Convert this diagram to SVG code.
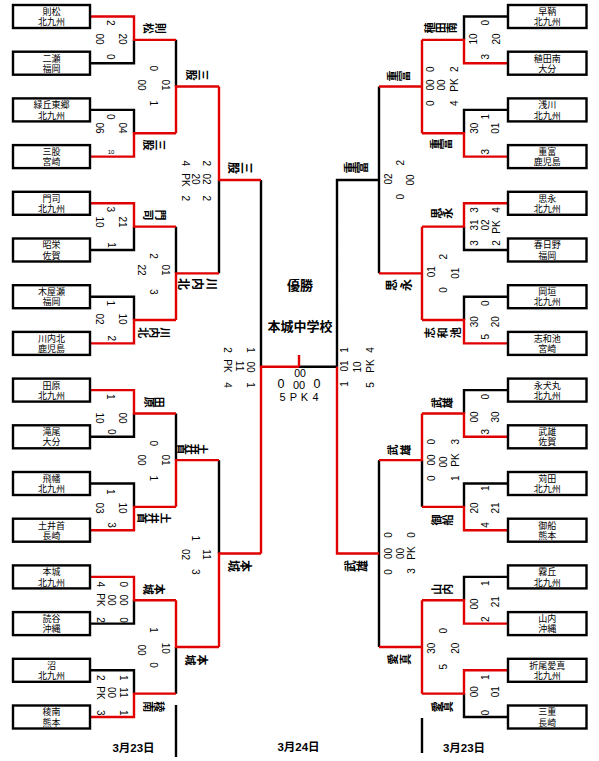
<svg xmlns="http://www.w3.org/2000/svg" width="599" height="761" viewBox="0 0 599 761">
<style>
.bx{fill:#fff;stroke:#000;stroke-width:2.4}
.k{fill:none;stroke:#000;stroke-width:2.4}
.r{fill:none;stroke:#e00000;stroke-width:2.4}
text{font-family:"Liberation Sans","Noto Sans CJK JP",sans-serif;fill:#000}
.tn{font-size:9px;text-anchor:middle}
.sc{font-size:10px;text-anchor:middle;dominant-baseline:central}
.lb{font-size:11px;font-weight:bold;text-anchor:middle;dominant-baseline:central}
.lb2{font-size:12px;font-weight:bold;text-anchor:middle;dominant-baseline:central}
.ct{font-size:13px;font-weight:bold;text-anchor:middle}
.dt{font-size:11.5px;font-weight:bold;text-anchor:middle}
</style>
<defs>
<rect id="bl" class="bx" x="13" y="-11.5" width="77" height="23"/>
<rect id="br" class="bx" x="508" y="-11.5" width="78.5" height="23"/>
</defs>
<rect width="599" height="761" fill="#fff"/>
<g id="connectors">
<path class="k" d="M91 63.2H134V39.85M91 109.9H134V133.25M91 250H134V226.65M91 296.7H134V320.05M91 436.8H134V413.45M91 483.5H134V506.85M91 623.6H134V600.25M91 670.3H134V693.65M176 39.85V86.55M176 226.65V273.35M176 413.45V460.15M176 646.95V693.65M219 179.95V273.35M219 460.15V553.55M261 179.95V366.75M299 366.75H337"/>
<path class="k" d="M507 16.5H464V39.85M507 109.9H464V133.25M507 250H464V226.65M507 296.7H464V320.05M507 390.1H464V413.45M507 483.5H464V506.85M507 576.9H464V600.25M507 717H464V693.65M422 460.15V506.85M379 86.55V273.35M379 460.15V646.95M379 179.95H337V366.75"/>
<path class="k" d="M176 705V757M422 718V753"/>
<path class="r" d="M91 16.5H134V39.85H176M91 156.6H134V133.25H176M91 203.3H134V226.65H176M91 343.4H134V320.05H176M91 390.1H134V413.45H176M91 530.2H134V506.85H176M91 576.9H134V600.25H176M91 717H134V693.65H176"/>
<path class="r" d="M176 133.25V86.55H219M176 320.05V273.35H219M176 506.85V460.15H219M176 600.25V646.95H219M219 86.55V179.95H261M219 646.95V553.55H261M261 553.55V366.75H299M299 355V366.75"/>
<path class="r" d="M507 63.2H464V39.85H422M507 156.6H464V133.25H422M507 203.3H464V226.65H422M507 343.4H464V320.05H422M507 436.8H464V413.45H422M507 530.2H464V506.85H422M507 623.6H464V600.25H422M507 670.3H464V693.65H422"/>
<path class="r" d="M422 39.85V133.25M422 86.55H379M422 226.65V320.05M422 273.35H379M422 413.45V460.15H379M422 600.25V693.65M422 646.95H379M379 553.55H337V366.75"/>
</g>
<g id="L0" transform="translate(0 16.5)"><use href="#bl"/><text class="tn" x="51.5" y="-1.6">則松</text><text class="tn" x="51.5" y="8.7">北九州</text></g>
<g id="L1" transform="translate(0 63.2)"><use href="#bl"/><text class="tn" x="51.5" y="-1.6">二瀬</text><text class="tn" x="51.5" y="8.7">福岡</text></g>
<g id="L2" transform="translate(0 109.9)"><use href="#bl"/><text class="tn" x="51.5" y="-1.6">緑丘東郷</text><text class="tn" x="51.5" y="8.7">北九州</text></g>
<g id="L3" transform="translate(0 156.6)"><use href="#bl"/><text class="tn" x="51.5" y="-1.6">三股</text><text class="tn" x="51.5" y="8.7">宮崎</text></g>
<g id="L4" transform="translate(0 203.3)"><use href="#bl"/><text class="tn" x="51.5" y="-1.6">門司</text><text class="tn" x="51.5" y="8.7">北九州</text></g>
<g id="L5" transform="translate(0 250)"><use href="#bl"/><text class="tn" x="51.5" y="-1.6">昭栄</text><text class="tn" x="51.5" y="8.7">佐賀</text></g>
<g id="L6" transform="translate(0 296.7)"><use href="#bl"/><text class="tn" x="51.5" y="-1.6">木屋瀬</text><text class="tn" x="51.5" y="8.7">福岡</text></g>
<g id="L7" transform="translate(0 343.4)"><use href="#bl"/><text class="tn" x="51.5" y="-1.6">川内北</text><text class="tn" x="51.5" y="8.7">鹿児島</text></g>
<g id="L8" transform="translate(0 390.1)"><use href="#bl"/><text class="tn" x="51.5" y="-1.6">田原</text><text class="tn" x="51.5" y="8.7">北九州</text></g>
<g id="L9" transform="translate(0 436.8)"><use href="#bl"/><text class="tn" x="51.5" y="-1.6">滝尾</text><text class="tn" x="51.5" y="8.7">大分</text></g>
<g id="L10" transform="translate(0 483.5)"><use href="#bl"/><text class="tn" x="51.5" y="-1.6">飛幡</text><text class="tn" x="51.5" y="8.7">北九州</text></g>
<g id="L11" transform="translate(0 530.2)"><use href="#bl"/><text class="tn" x="51.5" y="-1.6">土井首</text><text class="tn" x="51.5" y="8.7">長崎</text></g>
<g id="L12" transform="translate(0 576.9)"><use href="#bl"/><text class="tn" x="51.5" y="-1.6">本城</text><text class="tn" x="51.5" y="8.7">北九州</text></g>
<g id="L13" transform="translate(0 623.6)"><use href="#bl"/><text class="tn" x="51.5" y="-1.6">読谷</text><text class="tn" x="51.5" y="8.7">沖縄</text></g>
<g id="L14" transform="translate(0 670.3)"><use href="#bl"/><text class="tn" x="51.5" y="-1.6">沼</text><text class="tn" x="51.5" y="8.7">北九州</text></g>
<g id="L15" transform="translate(0 717)"><use href="#bl"/><text class="tn" x="51.5" y="-1.6">稜南</text><text class="tn" x="51.5" y="8.7">熊本</text></g>
<g id="R0" transform="translate(0 16.5)"><use href="#br"/><text class="tn" x="547.2" y="-1.6">早鞆</text><text class="tn" x="547.2" y="8.7">北九州</text></g>
<g id="R1" transform="translate(0 63.2)"><use href="#br"/><text class="tn" x="547.2" y="-1.6">稙田南</text><text class="tn" x="547.2" y="8.7">大分</text></g>
<g id="R2" transform="translate(0 109.9)"><use href="#br"/><text class="tn" x="547.2" y="-1.6">浅川</text><text class="tn" x="547.2" y="8.7">北九州</text></g>
<g id="R3" transform="translate(0 156.6)"><use href="#br"/><text class="tn" x="547.2" y="-1.6">重富</text><text class="tn" x="547.2" y="8.7">鹿児島</text></g>
<g id="R4" transform="translate(0 203.3)"><use href="#br"/><text class="tn" x="547.2" y="-1.6">思永</text><text class="tn" x="547.2" y="8.7">北九州</text></g>
<g id="R5" transform="translate(0 250)"><use href="#br"/><text class="tn" x="547.2" y="-1.6">春日野</text><text class="tn" x="547.2" y="8.7">福岡</text></g>
<g id="R6" transform="translate(0 296.7)"><use href="#br"/><text class="tn" x="547.2" y="-1.6">岡垣</text><text class="tn" x="547.2" y="8.7">北九州</text></g>
<g id="R7" transform="translate(0 343.4)"><use href="#br"/><text class="tn" x="547.2" y="-1.6">志和池</text><text class="tn" x="547.2" y="8.7">宮崎</text></g>
<g id="R8" transform="translate(0 390.1)"><use href="#br"/><text class="tn" x="547.2" y="-1.6">永犬丸</text><text class="tn" x="547.2" y="8.7">北九州</text></g>
<g id="R9" transform="translate(0 436.8)"><use href="#br"/><text class="tn" x="547.2" y="-1.6">武雄</text><text class="tn" x="547.2" y="8.7">佐賀</text></g>
<g id="R10" transform="translate(0 483.5)"><use href="#br"/><text class="tn" x="547.2" y="-1.6">苅田</text><text class="tn" x="547.2" y="8.7">北九州</text></g>
<g id="R11" transform="translate(0 530.2)"><use href="#br"/><text class="tn" x="547.2" y="-1.6">御船</text><text class="tn" x="547.2" y="8.7">熊本</text></g>
<g id="R12" transform="translate(0 576.9)"><use href="#br"/><text class="tn" x="547.2" y="-1.6">霧丘</text><text class="tn" x="547.2" y="8.7">北九州</text></g>
<g id="R13" transform="translate(0 623.6)"><use href="#br"/><text class="tn" x="547.2" y="-1.6">山内</text><text class="tn" x="547.2" y="8.7">沖縄</text></g>
<g id="R14" transform="translate(0 670.3)"><use href="#br"/><text class="tn" x="547.2" y="-1.6">折尾愛真</text><text class="tn" x="547.2" y="8.7">北九州</text></g>
<g id="R15" transform="translate(0 717)"><use href="#br"/><text class="tn" x="547.2" y="-1.6">三重</text><text class="tn" x="547.2" y="8.7">長崎</text></g>
<g id="labels-left">
<text class="lb" transform="translate(159.5 28.3) rotate(90)">則</text><text class="lb" transform="translate(148.3 28.3) rotate(90)">松</text>
<text class="lb" transform="translate(159.5 145) rotate(90)">三</text><text class="lb" transform="translate(148.3 145) rotate(90)">股</text>
<text class="lb" transform="translate(202.7 75) rotate(90)">三</text><text class="lb" transform="translate(191 75) rotate(90)">股</text>
<text class="lb2" transform="translate(245.5 168) rotate(90)">三</text><text class="lb2" transform="translate(232.5 168) rotate(90)">股</text>
<text class="lb" transform="translate(159.5 215) rotate(90)">門</text><text class="lb" transform="translate(148.3 215) rotate(90)">司</text>
<text class="lb" transform="translate(165 332.7) rotate(90)">川</text><text class="lb" transform="translate(154 332.7) rotate(90)">内</text><text class="lb" transform="translate(143.3 332.7) rotate(90)">北</text>
<text class="lb2" transform="translate(210.7 284) rotate(90)">川</text><text class="lb2" transform="translate(196.7 284) rotate(90)">内</text><text class="lb2" transform="translate(182.7 284) rotate(90)">北</text>
<text class="lb" transform="translate(159.3 402.3) rotate(90)">田</text><text class="lb" transform="translate(149 402.3) rotate(90)">原</text>
<text class="lb" transform="translate(201.7 449.3) rotate(90)">土</text><text class="lb" transform="translate(191.7 449.3) rotate(90)">井</text><text class="lb" transform="translate(181.7 449.3) rotate(90)">首</text>
<text class="lb" transform="translate(165 518.3) rotate(90)">土</text><text class="lb" transform="translate(153.3 518.3) rotate(90)">井</text><text class="lb" transform="translate(141.7 518.3) rotate(90)">首</text>
<text class="lb" transform="translate(159.3 589.3) rotate(90)">本</text><text class="lb" transform="translate(148.3 589.3) rotate(90)">城</text>
<text class="lb" transform="translate(159.3 706.7) rotate(90)">稜</text><text class="lb" transform="translate(148.3 706.7) rotate(90)">南</text>
<text class="lb" transform="translate(201.7 660) rotate(90)">本</text><text class="lb" transform="translate(190 660) rotate(90)">城</text>
<text class="lb2" transform="translate(245 566) rotate(90)">本</text><text class="lb2" transform="translate(233 566) rotate(90)">城</text>
</g>
<g id="labels-right">
<text class="lb" transform="translate(430 27.7) rotate(-90)">稙</text><text class="lb" transform="translate(441 27.7) rotate(-90)">田</text><text class="lb" transform="translate(452 27.7) rotate(-90)">南</text>
<text class="lb" transform="translate(393.3 76) rotate(-90)">重</text><text class="lb" transform="translate(404.5 76) rotate(-90)">富</text>
<text class="lb" transform="translate(436 144) rotate(-90)">重</text><text class="lb" transform="translate(447.3 144) rotate(-90)">富</text>
<text class="lb2" transform="translate(350.5 167.5) rotate(-90)">重</text><text class="lb2" transform="translate(362.5 167.5) rotate(-90)">富</text>
<text class="lb" transform="translate(436.7 213.3) rotate(-90)">思</text><text class="lb" transform="translate(448.3 213.3) rotate(-90)">永</text>
<text class="lb2" transform="translate(392 285) rotate(-90)">思</text><text class="lb2" transform="translate(406.5 285) rotate(-90)">永</text>
<text class="lb" transform="translate(430 332.7) rotate(-90)">志</text><text class="lb" transform="translate(443.3 332.7) rotate(-90)">和</text><text class="lb" transform="translate(456 332.7) rotate(-90)">池</text>
<text class="lb" transform="translate(436.7 402.7) rotate(-90)">武</text><text class="lb" transform="translate(448.3 402.7) rotate(-90)">雄</text>
<text class="lb" transform="translate(393.3 450) rotate(-90)">武</text><text class="lb" transform="translate(406 450) rotate(-90)">雄</text>
<text class="lb" transform="translate(436.7 520) rotate(-90)">御</text><text class="lb" transform="translate(448.3 520) rotate(-90)">船</text>
<text class="lb2" transform="translate(350.5 566) rotate(-90)">武</text><text class="lb2" transform="translate(363 566) rotate(-90)">雄</text>
<text class="lb" transform="translate(436.7 589.3) rotate(-90)">山</text><text class="lb" transform="translate(448.3 589.3) rotate(-90)">内</text>
<text class="lb" transform="translate(393.3 659.3) rotate(-90)">愛</text><text class="lb" transform="translate(406 659.3) rotate(-90)">真</text>
<text class="lb" transform="translate(436.7 706.7) rotate(-90)">愛</text><text class="lb" transform="translate(448.3 706.7) rotate(-90)">真</text>
</g>
<g id="scores-left">
<text class="sc" transform="translate(122.7 39) rotate(90)">20</text><text class="sc" transform="translate(110.3 22.7) rotate(90)">2</text><text class="sc" transform="translate(110.3 56.7) rotate(90)">0</text><text class="sc" transform="translate(99.3 39) rotate(90)">00</text>
<text class="sc" transform="translate(110 116.7) rotate(90)">0</text><text class="sc" transform="translate(122.7 128) rotate(90)">04</text><text class="sc" transform="translate(99.3 128) rotate(90)">06</text><text x="111" y="154" font-size="6" text-anchor="middle">10</text>
<text class="sc" transform="translate(110 209.3) rotate(90)">3</text><text class="sc" transform="translate(122.7 222) rotate(90)">21</text><text class="sc" transform="translate(99.3 222) rotate(90)">10</text><text class="sc" transform="translate(111 245) rotate(90)">1</text>
<text class="sc" transform="translate(110 303.3) rotate(90)">1</text><text class="sc" transform="translate(122.7 319) rotate(90)">10</text><text class="sc" transform="translate(99.3 319) rotate(90)">02</text><text class="sc" transform="translate(111 338.3) rotate(90)">2</text>
<text class="sc" transform="translate(110 396.7) rotate(90)">1</text><text class="sc" transform="translate(122.7 418) rotate(90)">00</text><text class="sc" transform="translate(99.3 418) rotate(90)">10</text><text class="sc" transform="translate(111 431.7) rotate(90)">0</text>
<text class="sc" transform="translate(110 491.7) rotate(90)">1</text><text class="sc" transform="translate(122.7 508) rotate(90)">10</text><text class="sc" transform="translate(99.3 508) rotate(90)">03</text><text class="sc" transform="translate(111 525) rotate(90)">3</text>
<text class="sc" transform="translate(123.3 584.3) rotate(90)">0</text><text class="sc" transform="translate(123.3 600) rotate(90)">00</text><text class="sc" transform="translate(123.3 620) rotate(90)">0</text><text class="sc" transform="translate(111.7 600) rotate(90)">00</text><text class="sc" transform="translate(100 584.3) rotate(90)">4</text><text class="sc" transform="translate(100 600) rotate(90)">PK</text><text class="sc" transform="translate(100 620) rotate(90)">2</text>
<text class="sc" transform="translate(123.3 677.7) rotate(90)">1</text><text class="sc" transform="translate(123.3 692.5) rotate(90)">11</text><text class="sc" transform="translate(123.3 712.7) rotate(90)">1</text><text class="sc" transform="translate(111.7 692.5) rotate(90)">00</text><text class="sc" transform="translate(100 677.7) rotate(90)">2</text><text class="sc" transform="translate(100 693) rotate(90)">PK</text><text class="sc" transform="translate(100 712.7) rotate(90)">3</text>
<text class="sc" transform="translate(153.3 68.3) rotate(90)">0</text><text class="sc" transform="translate(165 85) rotate(90)">01</text><text class="sc" transform="translate(141.7 85) rotate(90)">00</text><text class="sc" transform="translate(153.3 103.3) rotate(90)">1</text>
<text class="sc" transform="translate(153.3 256) rotate(90)">2</text><text class="sc" transform="translate(165 270) rotate(90)">01</text><text class="sc" transform="translate(141.7 270) rotate(90)">22</text><text class="sc" transform="translate(153.3 291.7) rotate(90)">3</text>
<text class="sc" transform="translate(153.3 443.3) rotate(90)">0</text><text class="sc" transform="translate(165 460) rotate(90)">01</text><text class="sc" transform="translate(141.7 460) rotate(90)">00</text><text class="sc" transform="translate(153.3 478.3) rotate(90)">1</text>
<text class="sc" transform="translate(153.3 630) rotate(90)">1</text><text class="sc" transform="translate(165 648.3) rotate(90)">10</text><text class="sc" transform="translate(141.7 650) rotate(90)">00</text><text class="sc" transform="translate(153.3 665) rotate(90)">0</text>
<text class="sc" transform="translate(206.7 163.3) rotate(90)">2</text><text class="sc" transform="translate(206.7 179) rotate(90)">02</text><text class="sc" transform="translate(206.7 198.3) rotate(90)">2</text><text class="sc" transform="translate(195.5 179) rotate(90)">20</text><text class="sc" transform="translate(185 163.3) rotate(90)">4</text><text class="sc" transform="translate(185 180) rotate(90)">PK</text><text class="sc" transform="translate(185 198.3) rotate(90)">2</text>
<text class="sc" transform="translate(206.7 554.5) rotate(90)">11</text><text class="sc" transform="translate(195.5 538.3) rotate(90)">1</text><text class="sc" transform="translate(195.5 571.7) rotate(90)">3</text><text class="sc" transform="translate(185 554.5) rotate(90)">02</text>
<text class="sc" transform="translate(250 350) rotate(90)">1</text><text class="sc" transform="translate(250 367) rotate(90)">00</text><text class="sc" transform="translate(250 385) rotate(90)">1</text><text class="sc" transform="translate(239.3 366) rotate(90)">11</text><text class="sc" transform="translate(227.7 350) rotate(90)">2</text><text class="sc" transform="translate(227.7 366) rotate(90)">PK</text><text class="sc" transform="translate(227.7 385) rotate(90)">4</text>
</g>
<g id="scores-right">
<text class="sc" transform="translate(485 22.7) rotate(-90)">0</text><text class="sc" transform="translate(473.3 39) rotate(-90)">10</text><text class="sc" transform="translate(496.7 39) rotate(-90)">20</text><text class="sc" transform="translate(485 56.7) rotate(-90)">3</text>
<text class="sc" transform="translate(485 116.7) rotate(-90)">1</text><text class="sc" transform="translate(474 128.3) rotate(-90)">30</text><text class="sc" transform="translate(495.7 128.3) rotate(-90)">01</text><text class="sc" transform="translate(485 151.7) rotate(-90)">3</text>
<text class="sc" transform="translate(474 210) rotate(-90)">3</text><text class="sc" transform="translate(474 225) rotate(-90)">31</text><text class="sc" transform="translate(474 243) rotate(-90)">3</text><text class="sc" transform="translate(485 225) rotate(-90)">02</text><text class="sc" transform="translate(496.7 210) rotate(-90)">4</text><text class="sc" transform="translate(496.7 227) rotate(-90)">PK</text><text class="sc" transform="translate(496.7 243) rotate(-90)">2</text>
<text class="sc" transform="translate(485 303.3) rotate(-90)">0</text><text class="sc" transform="translate(474 321.7) rotate(-90)">30</text><text class="sc" transform="translate(495.7 321.7) rotate(-90)">20</text><text class="sc" transform="translate(485 336.7) rotate(-90)">5</text>
<text class="sc" transform="translate(485 396.7) rotate(-90)">0</text><text class="sc" transform="translate(474 417) rotate(-90)">00</text><text class="sc" transform="translate(495.7 417) rotate(-90)">30</text><text class="sc" transform="translate(485 431.7) rotate(-90)">3</text>
<text class="sc" transform="translate(485 488.3) rotate(-90)">1</text><text class="sc" transform="translate(474 508) rotate(-90)">20</text><text class="sc" transform="translate(495.7 508) rotate(-90)">21</text><text class="sc" transform="translate(485 525) rotate(-90)">4</text>
<text class="sc" transform="translate(485 583.3) rotate(-90)">1</text><text class="sc" transform="translate(474 604) rotate(-90)">00</text><text class="sc" transform="translate(495.7 601.7) rotate(-90)">21</text><text class="sc" transform="translate(485 619.3) rotate(-90)">2</text>
<text class="sc" transform="translate(485 677.3) rotate(-90)">1</text><text class="sc" transform="translate(474 691.7) rotate(-90)">00</text><text class="sc" transform="translate(495.7 691.7) rotate(-90)">01</text><text class="sc" transform="translate(485 712.7) rotate(-90)">0</text>
<text class="sc" transform="translate(430 69.3) rotate(-90)">0</text><text class="sc" transform="translate(430 85) rotate(-90)">00</text><text class="sc" transform="translate(430 103.3) rotate(-90)">0</text><text class="sc" transform="translate(441.7 85) rotate(-90)">00</text><text class="sc" transform="translate(454 69.3) rotate(-90)">2</text><text class="sc" transform="translate(454 85) rotate(-90)">PK</text><text class="sc" transform="translate(454 103.3) rotate(-90)">4</text>
<text class="sc" transform="translate(443.3 256.7) rotate(-90)">2</text><text class="sc" transform="translate(431.7 271.7) rotate(-90)">01</text><text class="sc" transform="translate(455 273.3) rotate(-90)">01</text><text class="sc" transform="translate(443.3 290) rotate(-90)">0</text>
<text class="sc" transform="translate(431.7 441.7) rotate(-90)">0</text><text class="sc" transform="translate(431.7 460) rotate(-90)">00</text><text class="sc" transform="translate(431.7 478.3) rotate(-90)">0</text><text class="sc" transform="translate(443.3 462) rotate(-90)">00</text><text class="sc" transform="translate(455 441.7) rotate(-90)">3</text><text class="sc" transform="translate(455 460) rotate(-90)">PK</text><text class="sc" transform="translate(455 478.3) rotate(-90)">1</text>
<text class="sc" transform="translate(443.3 630.7) rotate(-90)">0</text><text class="sc" transform="translate(431.7 648.3) rotate(-90)">30</text><text class="sc" transform="translate(455 648.3) rotate(-90)">20</text><text class="sc" transform="translate(443.3 666.7) rotate(-90)">5</text>
<text class="sc" transform="translate(400 162.7) rotate(-90)">2</text><text class="sc" transform="translate(388.3 179) rotate(-90)">02</text><text class="sc" transform="translate(410 180) rotate(-90)">00</text><text class="sc" transform="translate(400 196.7) rotate(-90)">0</text>
<text class="sc" transform="translate(388.3 535) rotate(-90)">0</text><text class="sc" transform="translate(388.3 553.5) rotate(-90)">00</text><text class="sc" transform="translate(388.3 572) rotate(-90)">0</text><text class="sc" transform="translate(400 553.5) rotate(-90)">00</text><text class="sc" transform="translate(411.7 535) rotate(-90)">0</text><text class="sc" transform="translate(411.7 553) rotate(-90)">PK</text><text class="sc" transform="translate(411.7 571) rotate(-90)">3</text>
<text class="sc" transform="translate(344.3 350) rotate(-90)">1</text><text class="sc" transform="translate(344.3 366) rotate(-90)">01</text><text class="sc" transform="translate(344.3 384) rotate(-90)">1</text><text class="sc" transform="translate(357 367) rotate(-90)">10</text><text class="sc" transform="translate(370 350) rotate(-90)">4</text><text class="sc" transform="translate(370 366) rotate(-90)">PK</text><text class="sc" transform="translate(370 385) rotate(-90)">5</text>
</g>
<g id="center">
<text class="ct" x="300" y="290">優勝</text>
<text class="ct" x="300" y="331">本城中学校</text>
<text x="300" y="376.5" font-size="10.5" text-anchor="middle">00</text>
<text x="281" y="388" font-size="12.5" text-anchor="middle">0</text>
<text x="299" y="389" font-size="11" text-anchor="middle">00</text>
<text x="317" y="388" font-size="12.5" text-anchor="middle">0</text>
<text y="401" font-size="11" text-anchor="middle"><tspan x="282.5">5</tspan><tspan x="293.5">P</tspan><tspan x="304.5">K</tspan><tspan x="315.5">4</tspan></text>
</g>
<g id="dates">
<text class="dt" x="133.5" y="752">3月23日</text>
<text class="dt" x="298.5" y="751">3月24日</text>
<text class="dt" x="464" y="752">3月23日</text>
</g>
</svg>
